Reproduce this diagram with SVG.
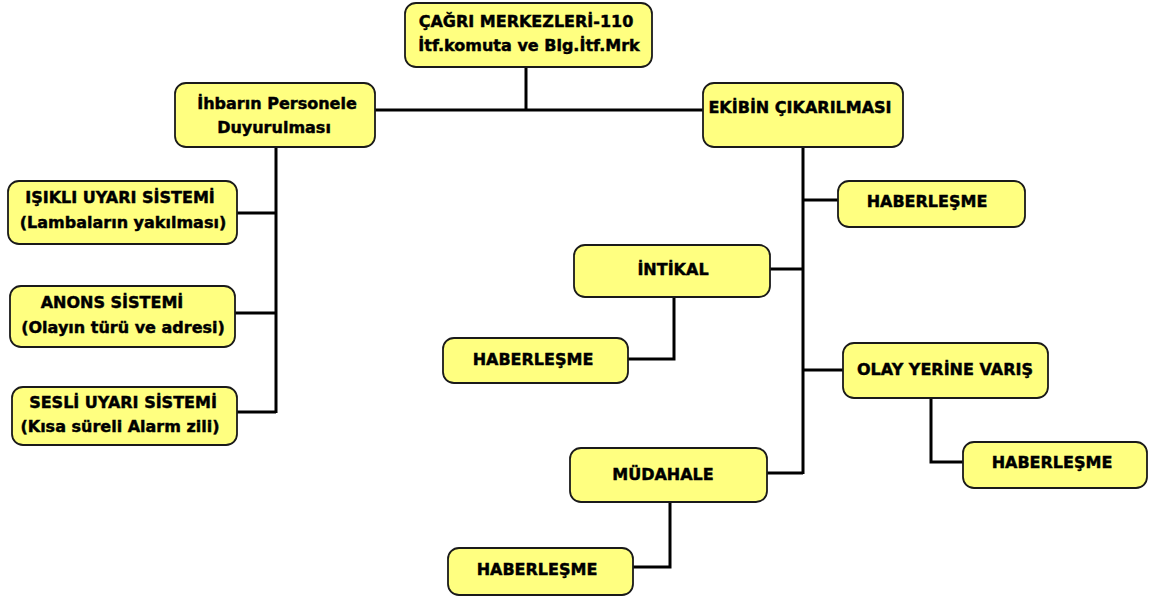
<svg xmlns="http://www.w3.org/2000/svg" width="1151" height="601" viewBox="0 0 1151 601">
  <style>
    .box { fill: #ffff80; stroke: #1a1a1a; stroke-width: 1.8; }
    .lbl { font-family: "DejaVu Sans", "Liberation Sans", sans-serif; font-weight: bold; font-size: 16px; fill: #000; stroke: #000; stroke-width: 0.45; text-anchor: middle; }
    .wire { fill: none; stroke: #000; stroke-width: 3; }
  </style>
  <rect width="1151" height="601" fill="#ffffff"/>

  <!-- connectors -->
  <g id="connectors">
    <path class="wire" d="M526 67 V110"/>
    <path class="wire" d="M375 110 H703"/>
    <path class="wire" d="M276 147 V413"/>
    <path class="wire" d="M237 213 H276"/>
    <path class="wire" d="M235 313 H276"/>
    <path class="wire" d="M237 412 H276"/>
    <path class="wire" d="M803 147 V474"/>
    <path class="wire" d="M803 200 H838"/>
    <path class="wire" d="M770 269 H803"/>
    <path class="wire" d="M803 370 H843"/>
    <path class="wire" d="M767 473 H803"/>
    <path class="wire" d="M674 297 V359 H628"/>
    <path class="wire" d="M931 398 V462 H963"/>
    <path class="wire" d="M670 502 V567 H633"/>
  </g>

  <g id="cagri-merkezleri">
    <rect class="box" x="405" y="3" width="247" height="64" rx="11"/>
    <text class="lbl" x="526" y="27">ÇAĞRI MERKEZLERİ-110</text>
    <text class="lbl" x="529" y="51">İtf.komuta ve Blg.İtf.Mrk</text>
  </g>

  <g id="ihbar-duyuru">
    <rect class="box" x="175" y="83" width="200" height="64" rx="11"/>
    <text class="lbl" x="277" y="109">İhbarın Personele</text>
    <text class="lbl" x="274" y="133">Duyurulması</text>
  </g>

  <g id="ekip-cikarma">
    <rect class="box" x="703" y="83" width="200" height="64" rx="11"/>
    <text class="lbl" x="800" y="113">EKİBİN ÇIKARILMASI</text>
  </g>

  <g id="isikli-uyari">
    <rect class="box" x="8" y="181" width="229" height="63" rx="11"/>
    <text class="lbl" x="120" y="203">IŞIKLI UYARI SİSTEMİ</text>
    <text class="lbl" x="123" y="228">(Lambaların yakılması)</text>
  </g>

  <g id="anons">
    <rect class="box" x="10" y="286" width="225" height="61" rx="11"/>
    <text class="lbl" x="112" y="308">ANONS SİSTEMİ</text>
    <text class="lbl" x="123" y="333">(Olayın türü ve adresi)</text>
  </g>

  <g id="sesli-uyari">
    <rect class="box" x="12" y="387" width="225" height="58" rx="11"/>
    <text class="lbl" x="123" y="408">SESLİ UYARI SİSTEMİ</text>
    <text class="lbl" x="120" y="432">(Kısa süreli Alarm zili)</text>
  </g>

  <g id="haberlesme-1">
    <rect class="box" x="838" y="181" width="187" height="46" rx="11"/>
    <text class="lbl" x="927" y="207">HABERLEŞME</text>
  </g>

  <g id="intikal">
    <rect class="box" x="574" y="245" width="196" height="52" rx="11"/>
    <text class="lbl" x="673" y="275">İNTİKAL</text>
  </g>

  <g id="haberlesme-2">
    <rect class="box" x="443" y="338" width="185" height="45" rx="11"/>
    <text class="lbl" x="533" y="365">HABERLEŞME</text>
  </g>

  <g id="olay-yeri">
    <rect class="box" x="843" y="343" width="205" height="55" rx="11"/>
    <text class="lbl" x="945" y="375">OLAY YERİNE VARIŞ</text>
  </g>

  <g id="haberlesme-3">
    <rect class="box" x="963" y="442" width="184" height="46" rx="11"/>
    <text class="lbl" x="1052" y="468">HABERLEŞME</text>
  </g>

  <g id="mudahale">
    <rect class="box" x="570" y="448" width="197" height="54" rx="11"/>
    <text class="lbl" x="663" y="480">MÜDAHALE</text>
  </g>

  <g id="haberlesme-4">
    <rect class="box" x="448" y="548" width="185" height="47" rx="11"/>
    <text class="lbl" x="537" y="575">HABERLEŞME</text>
  </g>
</svg>
